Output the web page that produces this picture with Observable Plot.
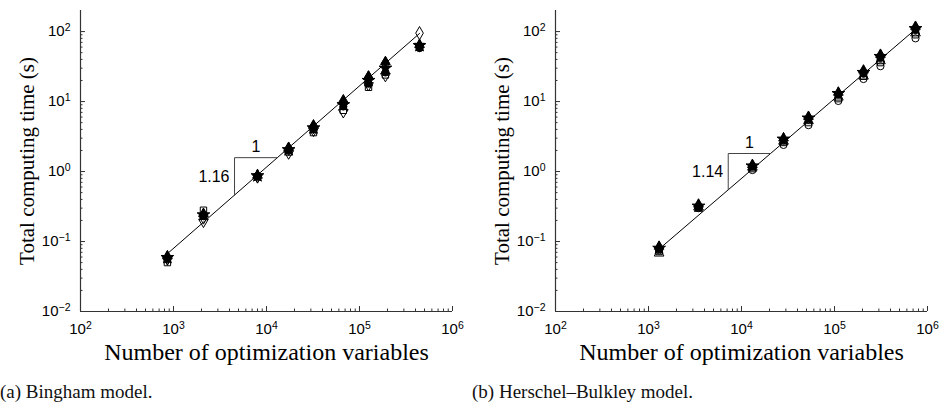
<!DOCTYPE html>
<html><head><meta charset="utf-8">
<script src="https://cdn.jsdelivr.net/npm/d3@7"></script>
<script src="https://cdn.jsdelivr.net/npm/@observablehq/plot@0.6"></script>
<style>
body{margin:0;background:#fff;}
#wrap{display:flex;width:944px;}
.panel{width:472px;}
.panel svg{display:block;}
.cap{font-family:"Liberation Serif","Times New Roman",serif;font-size:19px;line-height:20px;color:#111;margin-top:10px;white-space:nowrap;}
</style></head><body>
<div id="wrap"><div class="panel" id="pa"></div><div class="panel" id="pb"></div></div>
<script>
// ---- tick values ----
const yTicks = [0.01, 0.1, 1, 10, 100];
const xTicks = [100, 1000, 10000, 100000, 1000000];
const yDomain = [0.01, 200];
const xDomain = [100, 1000000];

// ---- (a) Bingham model ----
const bingX        = [860, 2100, 8000, 17300, 32000, 67000, 125000, 190000, 442000];
const bingDiamond  = [0.058, 0.22, 0.86, 2.1, 4.3, 9.5, 22, 35, 95];
const bingSquare   = [0.050, 0.28, 0.84, 1.9, 3.6, 7.5, 16, 24, 60];
const bingDownTri  = [0.055, 0.19, 0.82, 1.8, 3.8, 7.0, 17, 23, 62];
const bingTriUp    = [0.062, 0.25, 0.88, 2.2, 4.6, 10.5, 23, 37, 65];
const bingCircle   = [0.056, 0.23, 0.85, 2.0, 4.0, 8.5, 18, 26, 58];
const bingStar     = [0.059, 0.24, 0.87, 2.05, 4.2, 9.0, 20, 30, 63];
const bingFitX = [860, 442000];
const bingFitY = [0.067, 94];
const bingSlope = 1.16;
const bingTriX = [4530, 13100];

// ---- (b) Herschel-Bulkley model ----
const hbX        = [1300, 3450, 13100, 28300, 52500, 110000, 205000, 312000, 743000];
const hbOCircle  = [0.075, 0.30, 1.05, 2.4, 4.6, 10.2, 21, 32, 80];
const hbOTriUp   = [0.068, 0.31, 1.15, 2.7, 5.3, 11.5, 23, 38, 95];
const hbOSquare  = [0.072, 0.30, 1.10, 2.6, 5.0, 11.0, 23, 36, 90];
const hbTriUp    = [0.085, 0.34, 1.25, 3.0, 6.1, 13.5, 28, 47, 118];
const hbStar     = [0.080, 0.32, 1.20, 2.9, 5.8, 13.0, 26, 44, 110];
const hbCircle   = [0.078, 0.31, 1.18, 2.8, 5.6, 12.5, 25, 42, 105];
const hbFitX = [1300, 743000];
const hbFitY = [0.078, 108];
const hbSlope = 1.14;
const hbTriX = [7200, 20500];

const yLabel = "Total computing time (s)";
const xLabel = "Number of optimization variables";
const captions = ["(a) Bingham model.", "(b) Herschel\u2013Bulkley model."];

// down-pointing triangle symbol
const triDown = {
  draw(context, size) {
    const y = -Math.sqrt(size / (Math.sqrt(3) * 3));
    context.moveTo(0, -y * 2);
    context.lineTo(-Math.sqrt(3) * y, y);
    context.lineTo(Math.sqrt(3) * y, y);
    context.closePath();
  }
};

function minors(lo, hi) {
  const out = [];
  for (let e = Math.log10(lo); e < Math.log10(hi); e++) {
    for (let k = 2; k <= 9; k++) {
      const v = k * Math.pow(10, e);
      if (v <= hi) out.push(v);
    }
  }
  return out;
}
const xMinor = minors(100, 1000000);
const yMinor = minors(0.01, 100);

const tickFont = "Liberation Sans, Arial, Helvetica, sans-serif";
const serif = "Liberation Serif, Times New Roman, serif";

function makePanel(cfg) {
  const fit = cfg.fitX.map((x, i) => ({x, y: cfg.fitY[i]}));
  const yl = x => cfg.fitY[0] * Math.pow(x / cfg.fitX[0], cfg.slope);
  const [x1, x2] = cfg.triX;
  const tri = [{x: x1, y: yl(x1)}, {x: x1, y: yl(x2)}, {x: x2, y: yl(x2)}];
  const dotMarks = cfg.series.map(s =>
    Plot.dot(cfg.xs.map((x, i) => ({x, y: s.values[i]})), {
      x: "x", y: "y", symbol: s.symbol, r: s.r || 3.6,
      fill: s.filled ? "black" : "none", stroke: "black", strokeWidth: 1
    })
  );
  const fmt = d => "10^" + Math.round(Math.log10(d));
  const svg = Plot.plot({
    width: 472, height: 372,
    marginLeft: cfg.marginLeft, marginRight: cfg.marginRight, marginTop: 10, marginBottom: 61,
    style: {background: "white", color: "black", overflow: "visible"},
    x: {type: "log", domain: xDomain},
    y: {type: "log", domain: yDomain},
    marks: [
      Plot.axisY({ticks: yMinor, tickSize: -2.5, tickFormat: () => "", label: null, stroke: "#333"}),
      Plot.axisY({ticks: yTicks, tickSize: -5, tickFormat: () => "", label: null, stroke: "#333"}),
      Plot.axisX({ticks: xMinor, tickSize: -2.5, tickFormat: () => "", label: null, stroke: "#333"}),
      Plot.axisX({ticks: xTicks, tickSize: -5, tickFormat: () => "", label: null, stroke: "#333"}),
      Plot.axisY({ticks: yTicks, tickSize: 0, tickPadding: 10, tickFormat: fmt, label: null, fontSize: 15, fontFamily: tickFont}),
      Plot.axisX({ticks: xTicks, tickSize: 0, tickPadding: 12, tickFormat: fmt, label: null, fontSize: 15, fontFamily: tickFont}),
      Plot.ruleX([xDomain[0]], {stroke: "#333", strokeWidth: 1.2}),
      Plot.ruleY([yDomain[0]], {stroke: "#333", strokeWidth: 1.2}),
      Plot.line(fit, {x: "x", y: "y", stroke: "black", strokeWidth: 1}),
      Plot.line(tri, {x: "x", y: "y", stroke: "#444", strokeWidth: 1}),
      Plot.text([{x: Math.sqrt(x1 * x2), y: yl(x2)}], {x: "x", y: "y", text: () => "1", dy: -11, fontSize: 16, fontFamily: tickFont}),
      Plot.text([{x: x1, y: Math.sqrt(yl(x1) * yl(x2))}], {x: "x", y: "y", text: () => cfg.slope.toFixed(2), dx: -5, textAnchor: "end", fontSize: 16, fontFamily: tickFont}),
      ...dotMarks,
      Plot.text([0], {frameAnchor: "left", textAnchor: "middle", lineAnchor: "middle", dx: -53, rotate: -90, text: () => yLabel, fontSize: 21, fontFamily: serif}),
      Plot.text([0], {frameAnchor: "bottom", textAnchor: "middle", lineAnchor: "middle", dy: 41, text: () => xLabel, fontSize: 24, fontFamily: serif})
    ]
  });
  svg.querySelectorAll('g[aria-label$="tick label"] text').forEach(t => {
    const m = /^10\^(-?\d+)$/.exec(t.textContent);
    if (!m) return;
    t.textContent = "10";
    const ts = document.createElementNS("http://www.w3.org/2000/svg", "tspan");
    ts.setAttribute("dy", "-0.5em");
    ts.setAttribute("font-size", "0.7em");
    ts.textContent = m[1].replace("-", "\u2212");
    t.appendChild(ts);
  });
  const host = document.getElementById(cfg.id);
  host.appendChild(svg);
  const cap = document.createElement("div");
  cap.className = "cap";
  cap.textContent = cfg.caption;
  host.appendChild(cap);
}

makePanel({
  id: "pa", caption: captions[0], marginLeft: 80, marginRight: 20,
  xs: bingX, fitX: bingFitX, fitY: bingFitY, slope: bingSlope, triX: bingTriX,
  series: [
    {values: bingDiamond, symbol: "diamond", filled: false, r: 4},
    {values: bingSquare, symbol: "square", filled: false},
    {values: bingDownTri, symbol: triDown, filled: false},
    {values: bingTriUp, symbol: "triangle", filled: true},
    {values: bingCircle, symbol: "circle", filled: true},
    {values: bingStar, symbol: "star", filled: true, r: 4}
  ]
});
makePanel({
  id: "pb", caption: captions[1], marginLeft: 83, marginRight: 17,
  xs: hbX, fitX: hbFitX, fitY: hbFitY, slope: hbSlope, triX: hbTriX,
  series: [
    {values: hbOCircle, symbol: "circle", filled: false},
    {values: hbOTriUp, symbol: "triangle", filled: false},
    {values: hbOSquare, symbol: "square", filled: false},
    {values: hbTriUp, symbol: "triangle", filled: true},
    {values: hbStar, symbol: "star", filled: true, r: 4},
    {values: hbCircle, symbol: "circle", filled: true}
  ]
});
</script>
</body></html>
